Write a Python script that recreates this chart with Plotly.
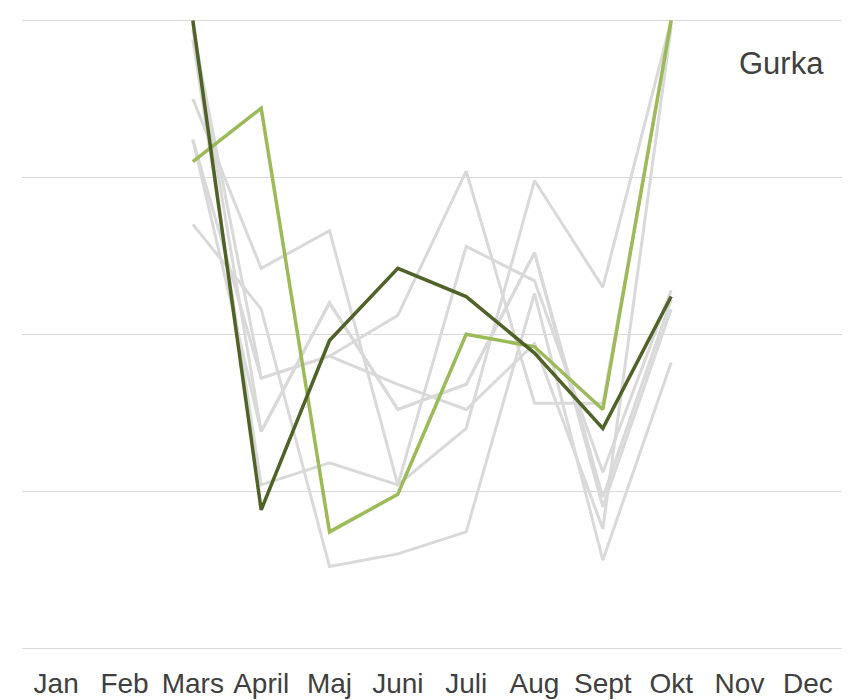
import plotly.graph_objects as go

months = ["Jan", "Feb", "Mars", "April", "Maj", "Juni", "Juli", "Aug", "Sept", "Okt", "Nov", "Dec"]
season = ["Mars", "April", "Maj", "Juni", "Juli", "Aug", "Sept", "Okt"]

# background (grey) years
grey_1 = [17.5, 12.1, 13.3, 5.2, 7.0, 14.9, 11.5, 20.0]
grey_2 = [13.5, 10.8, 2.6, 3.0, 3.7, 11.3, 2.8, 9.1]
grey_3 = [16.2, 8.6, 9.3, 10.6, 15.2, 7.8, 7.8, 19.9]
grey_4 = [19.9, 6.9, 11.0, 7.6, 8.4, 12.6, 4.5, 10.8]
grey_5 = [19.4, 5.2, 5.9, 5.2, 12.8, 11.7, 5.6, 11.4]
grey_6 = [19.7, 8.6, 9.3, 8.4, 7.6, 9.7, 3.8, 19.8]
grey_7 = [16.2, 6.9, 11.0, 7.6, 8.4, 12.6, 4.8, 11.1]
grey_series = [grey_1, grey_2, grey_3, grey_4, grey_5, grey_6, grey_7]

previous_year = [15.5, 17.2, 3.7, 4.9, 10.0, 9.6, 7.6, 20.0]
current_year = [20.0, 4.4, 9.8, 12.1, 11.2, 9.4, 7.0, 11.2]

label = "Gurka"

fig = go.Figure()
for s in grey_series:
    fig.add_trace(go.Scatter(x=season, y=s, mode="lines",
                             line=dict(color="#d9d9d9", width=3),
                             showlegend=False, hoverinfo="skip"))
fig.add_trace(go.Scatter(x=season, y=previous_year, mode="lines",
                         line=dict(color="#9bbb59", width=3.5), showlegend=False))
fig.add_trace(go.Scatter(x=season, y=current_year, mode="lines",
                         line=dict(color="#4f6228", width=3.5), showlegend=False))

fig.add_annotation(text=label, xref="paper", yref="paper", x=0.9805, y=0.918,
                   xanchor="right", yanchor="middle", showarrow=False,
                   font=dict(family="Liberation Sans, Arial", size=31, color="#404040"))

fig.update_layout(
    width=850, height=700,
    margin=dict(l=14, r=16, t=3, b=60),
    paper_bgcolor="white", plot_bgcolor="white",
    font=dict(family="Liberation Sans, Arial", color="#404040"),
    xaxis=dict(type="category", categoryorder="array", categoryarray=months,
               range=[-0.5, 11.5], showgrid=False, showline=False, zeroline=False,
               ticks="", tickfont=dict(size=28, family="Liberation Sans, Arial", color="#404040"),
               ticklabelstandoff=16),
    yaxis=dict(range=[0, 20.3], dtick=5, tick0=0, showgrid=True, gridcolor="#d9d9d9",
               gridwidth=1, zeroline=True, zerolinecolor="#d9d9d9", zerolinewidth=1,
               showticklabels=False, ticks="", showline=False),
)

fig.write_html("out.html")
